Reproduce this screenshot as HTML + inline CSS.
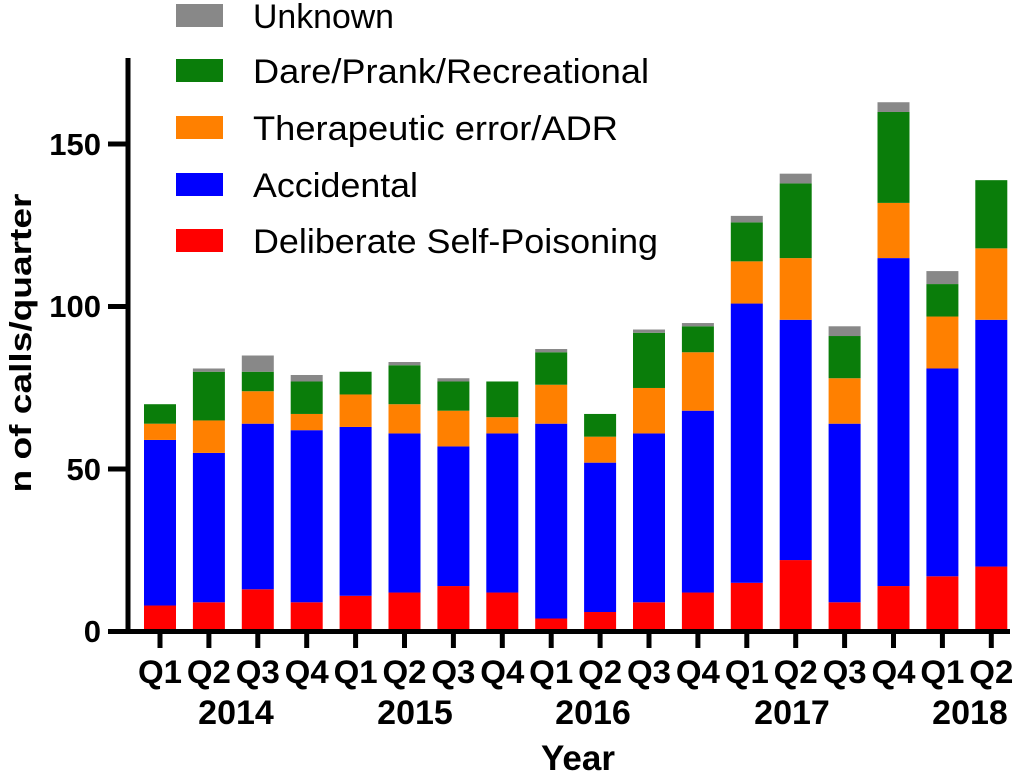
<!DOCTYPE html>
<html><head><meta charset="utf-8"><style>html,body{margin:0;padding:0;background:#fff}svg{display:block}</style></head>
<body>
<svg width="1028" height="774" xmlns="http://www.w3.org/2000/svg" font-family="Liberation Sans, Arial, sans-serif">
<g id="bars"></g>
<line x1="128" y1="58" x2="128" y2="634" stroke="#000" stroke-width="5"/>
<line x1="126" y1="631.5" x2="1010" y2="631.5" stroke="#000" stroke-width="5"/>
<g stroke="#000" stroke-width="5">
<line x1="108" y1="144" x2="128" y2="144"/>
<line x1="108" y1="306.5" x2="128" y2="306.5"/>
<line x1="108" y1="469" x2="128" y2="469"/>
<line x1="108" y1="631.5" x2="128" y2="631.5"/>
</g>
<g font-size="31" font-weight="bold" text-anchor="end">
<text x="101" y="155">150</text>
<text x="101" y="317">100</text>
<text x="101" y="480">50</text>
<text x="101" y="642">0</text>
</g>
<text transform="translate(31,343) rotate(-90)" font-size="31" font-weight="bold" text-anchor="middle" textLength="299" lengthAdjust="spacingAndGlyphs">n of calls/quarter</text>
<g id="xt" font-size="32" font-weight="bold" text-anchor="middle"></g>
<g font-size="34" font-weight="bold" text-anchor="middle">
<text x="236" y="724">2014</text>
<text x="415" y="724">2015</text>
<text x="593" y="724">2016</text>
<text x="792" y="724">2017</text>
<text x="970" y="724">2018</text>
<text x="578" y="770" font-size="35">Year</text>
</g>
<g font-size="34">
<rect x="176" y="4" width="47" height="23" fill="#888888"/><text x="253" y="28" textLength="141" lengthAdjust="spacingAndGlyphs">Unknown</text>
<rect x="176" y="59" width="47" height="23" fill="#0a7d0a"/><text x="253" y="83" textLength="396" lengthAdjust="spacingAndGlyphs">Dare/Prank/Recreational</text>
<rect x="176" y="116" width="47" height="23" fill="#ff8000"/><text x="253" y="140" textLength="365" lengthAdjust="spacingAndGlyphs">Therapeutic error/ADR</text>
<rect x="176" y="173" width="47" height="23" fill="#0000ff"/><text x="253" y="197" textLength="165" lengthAdjust="spacingAndGlyphs">Accidental</text>
<rect x="176" y="229" width="47" height="23" fill="#ff0000"/><text x="253" y="253" textLength="405" lengthAdjust="spacingAndGlyphs">Deliberate Self-Poisoning</text>
</g>
<script>
var d=[[8,59,64,70,70],[9,55,65,80,81],[13,64,74,80,85],[9,62,67,77,79],[11,63,73,80,80],[12,61,70,82,83],[14,57,68,77,78],[12,61,66,77,77],[4,64,76,86,87],[6,52,60,67,67],[9,61,75,92,93],[12,68,86,94,95],[15,101,114,126,128],[22,96,115,138,141],[9,64,78,91,94],[14,115,132,160,163],[17,81,97,107,111],[20,96,118,139,139]];
var c=["#ff0000","#0000ff","#ff8000","#0a7d0a","#888888"];
var ns="http://www.w3.org/2000/svg",g=document.getElementById("bars"),xt=document.getElementById("xt");
function Y(v){return 631.5-v*3.247;}
d.forEach(function(b,i){var x=144+48.9*i,prev=0;
b.forEach(function(v,k){if(v>prev){var r=document.createElementNS(ns,"rect");r.setAttribute("x",x);r.setAttribute("width",32);r.setAttribute("y",Y(v));r.setAttribute("height",Y(prev)-Y(v));r.setAttribute("fill",c[k]);g.appendChild(r);}prev=v;});
var l=document.createElementNS(ns,"line");l.setAttribute("x1",x+16);l.setAttribute("x2",x+16);l.setAttribute("y1",631);l.setAttribute("y2",648);l.setAttribute("stroke","#000");l.setAttribute("stroke-width",5);g.appendChild(l);
var t=document.createElementNS(ns,"text");t.setAttribute("x",x+16);t.setAttribute("y",683);t.setAttribute("textLength",44);t.setAttribute("lengthAdjust","spacingAndGlyphs");t.textContent="Q"+(i%4+1);xt.appendChild(t);});
</script>
</svg>
</body></html>
